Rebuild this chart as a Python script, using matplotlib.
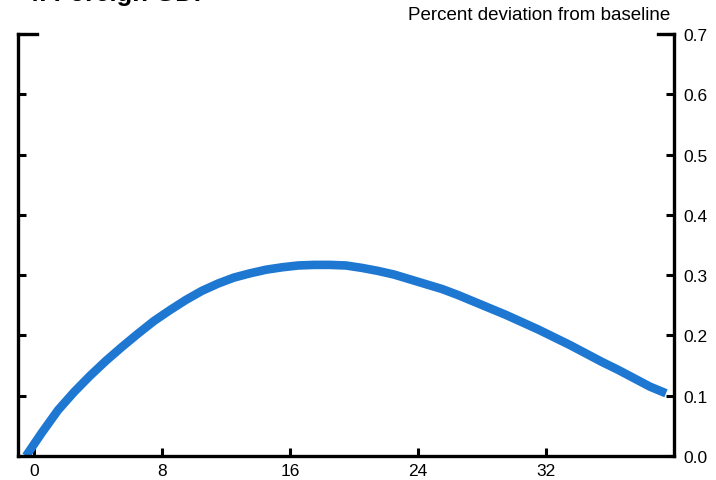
import numpy as np
import matplotlib.pyplot as plt

plt.rcParams['font.family'] = ['Liberation Sans', 'DejaVu Sans']

# response in percent deviation from baseline, one value per quarter
# (points sit at mid-quarter, half a quarter left of each tick)
foreign_gdp = [0.000, 0.039, 0.076, 0.106, 0.133, 0.158, 0.181, 0.203, 0.224, 0.242,
               0.259, 0.274, 0.286, 0.296, 0.303, 0.309, 0.313, 0.316, 0.317, 0.317,
               0.316, 0.312, 0.307, 0.301, 0.293, 0.285, 0.277, 0.267, 0.256, 0.245,
               0.234, 0.222, 0.210, 0.197, 0.184, 0.170, 0.156, 0.143, 0.129, 0.115,
               0.104]
quarters = np.arange(len(foreign_gdp)) - 0.5
xticks = [0, 8, 16, 24, 32]
yticks = [0.0, 0.1, 0.2, 0.3, 0.4, 0.5, 0.6, 0.7]

fig = plt.figure(figsize=(7.16, 4.81), dpi=100)
ax = fig.add_axes([18/716, 1 - 457/481, (674 - 18)/716, (457 - 35)/481])

ax.plot(quarters, foreign_gdp, color='#1e78d2', lw=6.2, solid_capstyle='butt',
        solid_joinstyle='round')

ax.set_xlim(-1, 40)
ax.set_ylim(0, 0.7)
ax.set_xticks(xticks)
ax.set_yticks(yticks)
ax.set_yticklabels(['%.1f' % v for v in yticks])

ax.spines['top'].set_visible(False)
for s in ['left', 'right', 'bottom']:
    ax.spines[s].set_linewidth(2.4)
ax.tick_params(axis='y', which='both', direction='in', left=True, right=True,
               labelleft=False, labelright=True, length=6, width=2.2, pad=7, labelsize=12.5)
ax.tick_params(axis='x', direction='in', length=6, width=2.2, pad=5, labelsize=12.5)

# longer stubs at the top corners
ax.axhline(0.7, xmin=0, xmax=0.029, color='black', lw=2.4, clip_on=False)
ax.axhline(0.7, xmin=0.975, xmax=1, color='black', lw=2.4, clip_on=False)

fig.text(670/716, 1 - 16/481, 'Percent deviation from baseline', ha='right', va='center',
         fontsize=13.5)
# title sits mostly above the top edge, as in the source crop
fig.text(25/716, 1 - 1/481, '4. Foreign GDP', ha='left', va='baseline',
         fontsize=18.5, fontweight='bold')

fig.savefig('out.png', dpi=100)
